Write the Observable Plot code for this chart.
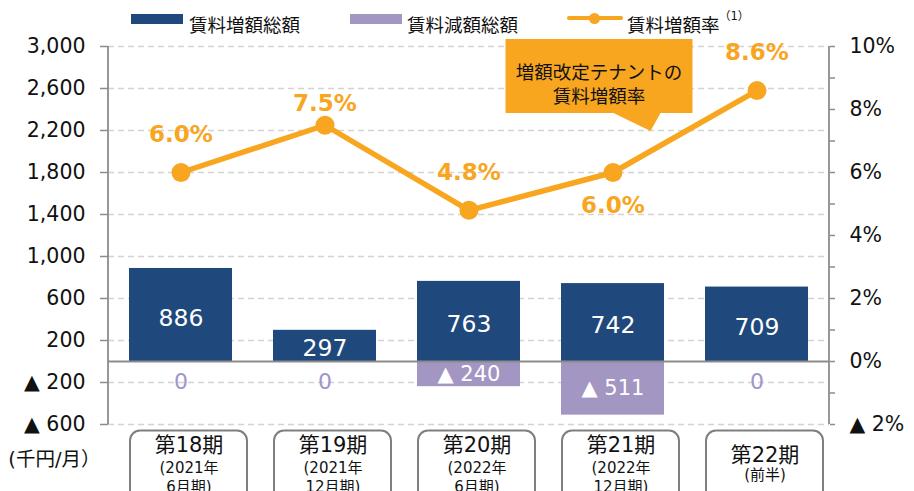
<!DOCTYPE html>
<html><head><meta charset="utf-8">
<script src="https://cdn.jsdelivr.net/npm/d3@7"></script>
<script src="https://cdn.jsdelivr.net/npm/@observablehq/plot@0.6"></script>
<style>
body{margin:0;background:#fff;overflow:hidden;font-family:'DejaVu Sans','Noto Sans CJK JP',sans-serif;}
#wrap{width:914px;height:491px;overflow:hidden;}
#legend{position:relative;height:30px;width:914px;font-size:18.5px;color:#111;}
#legend div{position:absolute;}
#legend .lb{top:15px;line-height:22px;white-space:nowrap;}
</style></head>
<body><div id="wrap"><div id="legend"></div><div id="chart"></div></div>
<script>
// ---- data ----
const periods = ["第18期","第19期","第20期","第21期","第22期"];
const periodNotes = ["(2021年\n6月期)","(2021年\n12月期)","(2022年\n6月期)","(2022年\n12月期)","(前半)"];
const increaseTotals = [886, 297, 763, 742, 709];
const decreaseTotals = [0, 0, -240, -511, 0];
const increaseRates = [6.0, 7.5, 4.8, 6.0, 8.6];
const leftDomain = [-600, 3000];
const rightDomain = [-2, 10];
const leftTicks = [-600, -200, 200, 600, 1000, 1400, 1800, 2200, 2600, 3000];
const rightTicks = [-2, -1, 0, 1, 2, 3, 4, 5, 6, 7, 8, 9, 10];
const rightLabelStep = 2;
const legendLabels = ["賃料増額総額", "賃料減額総額", "賃料増額率"];
const legendNote = "（1）";
const unitLabel = "(千円/月）";
const calloutText = "増額改定テナントの\n賃料増額率";
const calloutAnchor = "第21期";

// ---- styles ----
const NAVY = "#1f497c", PURPLE = "#a396c2", ORANGE = "#f8a51f", GRID = "#d3d3d3", AXIS = "#8c8c8c";
const FONT = "'DejaVu Sans','Noto Sans CJK JP',sans-serif";

// map rate (%) onto left-axis units
const k = (leftDomain[1] - leftDomain[0]) / (rightDomain[1] - rightDomain[0]);
const b = leftDomain[0] - rightDomain[0] * k;
const toY = p => p * k + b;
const fromY = v => (v - b) / k;

const rows = periods.map((p, i) => ({i, period: p, note: periodNotes[i], inc: increaseTotals[i], dec: decreaseTotals[i], rate: increaseRates[i], rateY: toY(increaseRates[i])}));

const fmtN = d3.format(",");
const fmtLeft = d => d < 0 ? "▲ " + fmtN(-d) : fmtN(d);
const fmtRight = v => {
  const p = Math.round(fromY(v) * 1000) / 1000;
  if (p % rightLabelStep !== 0) return "";
  return p < 0 ? "▲ " + (-p) + "%" : p + "%";
};

// ---- legend (HTML above the svg) ----
const lg = document.getElementById("legend");
lg.innerHTML = `
 <div style="left:131px;top:14px;width:52px;height:10px;background:${NAVY}"></div>
 <div class="lb" style="left:189px">${legendLabels[0]}</div>
 <div style="left:350px;top:14px;width:52px;height:10px;background:${PURPLE}"></div>
 <div class="lb" style="left:407px">${legendLabels[1]}</div>
 <div style="left:567px;top:16px;width:56px;height:4px;background:${ORANGE};border-radius:2px"></div>
 <div style="left:589px;top:12.5px;width:11px;height:11px;border-radius:50%;background:${ORANGE}"></div>
 <div class="lb" style="left:627px">${legendLabels[2]}</div>
 <div style="left:719px;top:9px;font-size:11.5px;line-height:14px">${legendNote}</div>`;

// axis side lines drawn from the plot's own dimensions
function axisLines(index, scales, values, dims) {
  const g = d3.create("svg:g");
  const y0 = dims.marginTop, y1 = dims.height - dims.marginBottom;
  for (const x of [dims.marginLeft, dims.width - dims.marginRight]) {
    g.append("line").attr("x1", x).attr("x2", x).attr("y1", y0).attr("y2", y1)
      .attr("stroke", AXIS).attr("stroke-width", 1.8);
  }
  return g.node();
}

// callout bubble anchored on a band of the x scale
function callout(index, scales, values, dims) {
  const x = scales.x, y = scales.y;
  const bw = typeof x.bandwidth === "function" ? x.bandwidth() : x.bandwidth;
  const cx = x(calloutAnchor) + bw / 2;
  const top = y(leftDomain[1]) - 7;
  const L = cx - 107, R = cx + 80, B = top + 74;
  const d = `M${L},${top}H${R}V${B}H${cx + 48}L${cx + 38},${B + 18}L${cx + 1},${B}H${L}Z`;
  const g = d3.create("svg:g");
  g.append("path").attr("d", d).attr("fill", ORANGE);
  return g.node();
}

const chart = Plot.plot({
  width: 914, height: 461,
  marginTop: 16, marginBottom: 67, marginLeft: 108, marginRight: 85,
  style: {fontFamily: FONT, fontSize: "20px", color: "#111", background: "#fff"},
  x: {domain: periods, axis: null, paddingInner: 0.285, paddingOuter: 0.1425},
  y: {domain: leftDomain, axis: null},
  marks: [
    Plot.ruleY(leftTicks, {stroke: GRID, strokeWidth: 1.5, strokeDasharray: "6,4"}),
    axisLines,
    Plot.axisY(leftTicks, {anchor: "left", tickSize: 8, tickPadding: 15, tickFormat: fmtLeft, fontSize: 20.5, stroke: AXIS, strokeWidth: 1.5, label: null}),
    Plot.axisY(rightTicks.map(toY), {anchor: "right", tickSize: 5, tickPadding: 15, tickFormat: fmtRight, fontSize: 20.5, stroke: AXIS, strokeWidth: 1.5, label: null}),
    Plot.barY(rows, {x: "period", y: "inc", fill: NAVY}),
    Plot.barY(rows, {x: "period", y: "dec", fill: PURPLE}),
    Plot.ruleY([0], {stroke: AXIS, strokeWidth: 2}),
    Plot.text(rows, {x: "period", y: d => d.inc / 2, text: d => String(d.inc), fill: "white", fontSize: 23.5, dy: 3}),
    Plot.text(rows, {filter: d => d.dec !== 0, x: "period", y: d => d.dec / 2, text: d => "▲ " + (-d.dec), fill: "white", fontSize: 21}),
    Plot.text(rows, {filter: d => d.dec === 0, x: "period", y: 0, dy: 20, text: d => String(d.dec), fill: "#a195c9", fontSize: 22}),
    Plot.line(rows, {x: "period", y: "rateY", stroke: ORANGE, strokeWidth: 5.5}),
    Plot.dot(rows, {x: "period", y: "rateY", r: 9.5, fill: ORANGE}),
    Plot.text(rows, {filter: d => d.i !== 1 && d.i !== 3, x: "period", y: "rateY", text: d => d.rate.toFixed(1) + "%", dy: -38, fill: ORANGE, fontSize: 23, fontWeight: "bold"}),
    Plot.text(rows, {filter: d => d.i === 1, x: "period", y: "rateY", text: d => d.rate.toFixed(1) + "%", dy: -22, fill: ORANGE, fontSize: 23, fontWeight: "bold"}),
    Plot.text(rows, {filter: d => d.i === 3, x: "period", y: "rateY", text: d => d.rate.toFixed(1) + "%", dy: 33, fill: ORANGE, fontSize: 23, fontWeight: "bold"}),
    callout,
    Plot.text([calloutText], {x: [calloutAnchor], y: [leftDomain[1]], text: d => d, dx: -14, dy: 37, fontSize: 18.5, lineHeight: 1.3, fill: "#111"}),
    Plot.barY(rows, {x: "period", y1: leftDomain[0] - 62, y2: leftDomain[0] - 1400, rx: 10, fill: "white", stroke: "#7f7f7f", strokeWidth: 2, insetLeft: -7, insetRight: -7, dx: 8}),
    Plot.text(rows, {filter: d => d.note.includes("\n"), x: "period", y: leftDomain[0], text: "period", dx: 8, dy: 21, fontSize: 21}),
    Plot.text(rows, {filter: d => !d.note.includes("\n"), x: "period", y: leftDomain[0], text: "period", dx: 8, dy: 31, fontSize: 21}),
    Plot.text(rows, {filter: d => d.note.includes("\n"), x: "period", y: leftDomain[0], text: "note", dx: 8, dy: 52, fontSize: 15, lineHeight: 1.25}),
    Plot.text(rows, {filter: d => !d.note.includes("\n"), x: "period", y: leftDomain[0], text: "note", dx: 8, dy: 51, fontSize: 15}),
    Plot.text([unitLabel], {frameAnchor: "bottom-left", textAnchor: "end", dx: -8, dy: 41, fontSize: 19.5})
  ]
});
document.getElementById("chart").appendChild(chart);
</script>
</body></html>
